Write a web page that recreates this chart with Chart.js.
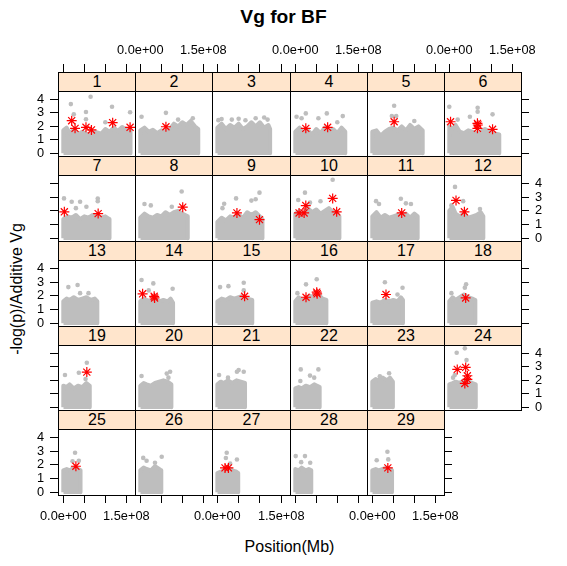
<!DOCTYPE html>
<html>
<head>
<meta charset="utf-8">
<script src="https://cdn.jsdelivr.net/npm/chart.js@4.4.1/dist/chart.umd.min.js"></script>
<style>
body { margin: 0; background: #fff; font-family: "Liberation Sans", Arial, sans-serif; }
#wrap { position: relative; width: 567px; height: 566px; overflow: hidden; }
#wrap canvas { position: absolute; }
.strip { position: absolute; box-sizing: border-box; border: 1px solid #000; background: #ffe5cc;
         font-size: 16px; line-height: 18px; text-align: center; color: #000; z-index: 5; }
#title { position: absolute; left: 0; top: 6px; width: 567px; text-align: center; font-weight: bold;
         font-size: 19.2px; line-height: 22px; }
#xlab { position: absolute; left: 58px; top: 537px; width: 463px; text-align: center; font-size: 16px; line-height: 20px; }
#ylab { position: absolute; left: 17px; top: 289px; transform: translate(-50%, -50%) rotate(-90deg);
        white-space: nowrap; font-size: 16px; line-height: 20px; }
</style>
</head>
<body>
<div id="wrap">
  <div id="title">Vg for BF</div>
  <div id="xlab">Position(Mb)</div>
  <div id="ylab">-log(p)/Additive Vg</div>
</div>
<script>
// chromosomes (one panel each) and their length in Mb
var chromosomes = ['1','2','3','4','5','6','7','8','9','10','11','12','13','14','15',
                   '16','17','18','19','20','21','22','23','24','25','26','27','28','29'];
var chrLengthMb = [160,138,124,119,120,119,110,113,106,105,108,81,81,78,82,
                   74,73,62,63,74,65,58,49,63,41,50,49,38,47];

// top of the dense grey band of SNPs, [Mb, -log(p)]
var cloudTop = [
  [[0,1.7],[8,1.9],[15,1.5],[25,1.75],[35,1.4],[45,1.6],[55,1.45],[65,1.4],[75,1.6],[90,1.45],[100,1.8],[110,1.6],[120,1.9],[130,1.65],[140,1.95],[150,1.75],[160,1.7]],
  [[0,1.7],[10,1.9],[20,1.6],[30,1.75],[40,1.5],[50,1.7],[60,1.6],[70,1.8],[80,2.2],[90,2.0],[100,2.3],[110,2.1],[120,2.4],[130,2.0],[138,1.8]],
  [[0,1.9],[10,2.2],[20,1.8],[30,2.1],[40,1.9],[50,2.2],[60,1.8],[70,2.0],[80,2.3],[90,2.0],[100,2.3],[110,1.9],[120,2.1],[124,1.8]],
  [[0,1.6],[10,1.9],[20,1.5],[30,1.7],[40,1.4],[50,1.8],[60,1.5],[70,1.9],[80,1.6],[90,1.8],[100,1.5],[110,1.9],[119,1.6]],
  [[0,1.6],[10,1.7],[20,1.3],[30,1.6],[40,1.8],[50,1.9],[60,1.7],[70,2.0],[80,1.7],[90,2.1],[100,1.8],[110,2.0],[120,1.7]],
  [[0,2.0],[8,1.8],[15,2.1],[25,1.6],[35,1.5],[45,1.7],[55,1.6],[65,1.5],[75,1.6],[85,1.8],[95,1.6],[105,1.5],[119,1.4]],
  [[0,1.4],[10,1.6],[20,1.5],[30,1.7],[40,1.4],[50,1.6],[60,1.5],[70,1.7],[80,1.6],[90,1.5],[100,1.6],[110,1.4]],
  [[0,1.5],[10,1.8],[20,1.6],[30,1.5],[40,1.7],[50,1.6],[60,1.9],[70,1.7],[80,1.9],[90,2.0],[100,1.8],[113,1.6]],
  [[0,1.2],[10,1.5],[20,1.3],[30,1.6],[40,1.5],[50,1.7],[60,1.5],[70,1.9],[80,1.7],[90,1.9],[100,1.6],[106,1.4]],
  [[0,1.8],[10,2.0],[20,1.7],[30,2.2],[40,1.9],[50,2.1],[60,1.8],[70,2.0],[80,2.2],[90,1.9],[100,1.8],[105,1.6]],
  [[0,1.6],[10,1.9],[20,1.5],[30,1.7],[40,1.5],[50,1.6],[60,1.7],[70,1.6],[80,1.8],[90,1.5],[100,1.8],[108,1.6]],
  [[0,2.0],[8,2.3],[15,1.8],[25,1.6],[35,1.8],[45,1.5],[55,1.6],[65,1.7],[75,1.9],[81,1.6]],
  [[0,1.6],[8,1.8],[15,1.7],[25,1.9],[35,1.7],[45,1.8],[55,1.9],[65,1.7],[75,1.8],[81,1.6]],
  [[0,1.6],[8,1.8],[15,1.7],[25,1.6],[35,1.8],[45,1.6],[55,1.7],[65,1.6],[72,1.8],[78,1.5]],
  [[0,1.6],[10,1.8],[20,1.7],[30,1.9],[40,1.8],[50,1.9],[60,2.0],[70,1.8],[82,1.7]],
  [[0,1.6],[8,1.9],[15,1.7],[25,1.8],[35,2.0],[45,1.9],[55,2.1],[65,1.8],[74,1.7]],
  [[0,1.5],[10,1.6],[20,1.5],[30,1.7],[40,1.6],[50,1.7],[60,1.6],[68,1.9],[73,1.7]],
  [[0,1.6],[8,1.9],[15,1.7],[25,1.9],[35,2.1],[45,1.9],[55,1.8],[62,1.7]],
  [[0,1.6],[8,1.5],[15,1.7],[25,1.4],[35,1.6],[45,1.5],[55,1.8],[63,1.6]],
  [[0,1.6],[8,1.8],[15,1.7],[25,1.6],[35,1.8],[45,1.9],[55,2.0],[65,1.9],[74,1.7]],
  [[0,1.7],[8,1.9],[15,1.8],[25,2.0],[35,1.8],[45,2.0],[55,1.9],[65,1.8]],
  [[0,1.4],[8,1.5],[15,1.4],[25,1.6],[35,1.5],[45,1.7],[52,1.6],[58,1.5]],
  [[0,1.9],[8,2.1],[15,2.0],[25,2.2],[35,2.0],[42,2.2],[49,1.9]],
  [[0,1.7],[8,1.8],[15,1.9],[25,1.8],[35,2.0],[45,1.9],[55,1.8],[63,1.7]],
  [[0,1.6],[8,1.7],[15,1.6],[25,1.8],[35,1.7],[41,1.6]],
  [[0,1.6],[8,1.8],[15,1.7],[25,1.6],[35,1.9],[45,1.7],[50,1.6]],
  [[0,1.4],[8,1.5],[15,1.6],[25,1.8],[35,1.6],[45,1.5],[49,1.4]],
  [[0,1.7],[8,1.6],[15,1.8],[25,1.6],[32,1.7],[38,1.6]],
  [[0,1.6],[8,1.7],[15,1.6],[25,1.7],[35,1.8],[42,1.7],[47,1.6]]
];

// single grey SNPs standing above the band, [Mb, -log(p)]
var greyPoints = [
  [[18,3.65],[65,4.19],[54,3.06],[116,3.45],[159,3.04],[25,2.89],[54,2.52],[100,2.3]],
  [[3,2.71],[61,3.0],[90,2.5],[125,2.6]],
  [[10,2.54],[34,2.5],[50,2.56],[66,2.45],[90,2.6],[110,2.66],[118,2.5],[2.4,2.46]],
  [[3,2.71],[15,2.6],[25,2.96],[55,2.6],[75,2.96],[113,2.76],[100,2.3]],
  [[52,3.53],[46.5,2.76],[57,2.76],[100,2.4]],
  [[0,3.45],[67.5,3.38],[67.5,3.08],[49,2.71],[103,2.89],[20,2.5]],
  [[1.7,2.91],[20,2.67],[40,2.67],[82,2.71],[82,2.9],[55,2.3],[30,2.2]],
  [[98.5,3.41],[10,2.5],[25,2.4],[75,2.3]],
  [[16,2.52],[44,2.91],[99,3.33],[80,2.75],[90,2.85],[12,2.2]],
  [[89,4.27],[23,3.33],[7,2.79],[60,2.7],[35,2.6]],
  [[68,2.89],[9,2.71],[16,2.5],[80,2.55],[92,2.5]],
  [[13.6,3.75],[33,2.71],[73,2.14],[5,2.4]],
  [[12,2.64],[34,2.79],[40,2.2],[60,2.2]],
  [[3,3.16],[31,2.91],[77,2.52],[20,2.4]],
  [[6.4,2.64],[26,2.71],[62,2.96],[62,2.4]],
  [[51,3.21],[25.5,2.84],[5,2.2]],
  [[30,3.0],[72,2.59],[60,2.1]],
  [[40,2.84],[37,2.6],[5,2.2]],
  [[56,3.3],[37,2.56],[4,2.39],[53,2.1]],
  [[71,2.64],[63,2.5],[3,2.32],[67,2.2]],
  [[50,2.76],[46,2.64],[62,2.64],[4,2.39],[25,2.2]],
  [[13,2.81],[55,2.81],[35,2.35],[45,2.2],[12,1.95]],
  [[40,2.52],[18,2.3]],
  [[37,4.37],[17.6,4.05],[41,3.5],[13,2.4],[9,2.2]],
  [[28,2.89],[22,2.27],[37,2.3]],
  [[7,2.51],[51,2.59],[35,2.15],[15,2.3]],
  [[22,2.89],[46,2.39],[20,2.5],[30,2.1]],
  [[1,2.64],[23,2.64],[14,2.2],[35.5,2.15]],
  [[36,2.96],[10.5,2.34],[38,2.4]]
];

// significant SNPs (red asterisks), [Mb, -log(p)]
var hits = [
  [[20,2.42],[28,1.85],[54,1.93],[67,1.73],[117.5,2.27],[159,1.93]],
  [[61,1.97]],
  [],
  [[25,1.85],[77,1.93]],
  [[52,2.34]],
  [[3,2.34],[67,2.22],[68,2.1],[67,1.85],[103,1.78]],
  [[2.5,1.93],[83,1.8]],
  [[101,2.27]],
  [[46,1.85],[99,1.36]],
  [[9,1.85],[21,1.85],[25,2.39],[89,2.91],[98.5,1.93]],
  [[70,1.85]],
  [[16,2.76],[36,1.93]],
  [],
  [[5.5,2.15],[33,1.97],[34,1.85]],
  [[64,1.97]],
  [[25.5,1.9],[51,2.27],[52,2.15]],
  [[32.6,2.1]],
  [[39,1.85]],
  [[56,2.61]],
  [], [], [], [],
  [[19,2.81],[39,2.96],[43,2.34],[43,2.07],[37,1.77]],
  [[30,1.9]],
  [],
  [[18,1.78],[26,1.78]],
  [],
  [[37,1.78]]
];

var xTicks = [0, 5e7, 1e8, 1.5e8];
var xTickLabels = ['0.0e+00', '', '', '1.5e+08'];
var yTicks = [0, 1, 2, 3, 4];
var yTickLabels = ['0', '1', '2', '3', '4'];

// panel grid (lattice layout 6 x 5)
var colLeft = [58, 135, 212, 290, 367, 444, 521];
var rowTop = [72, 156, 241, 326, 410, 495];
var stripH = 19;
var M = 50;
var GREY = '#bebebe';
var tickFont = { family: '"Liberation Sans", Arial, sans-serif', size: 12.8 };

function toXY(pairs) {
    return pairs.map(function (p) { return { x: p[0] * 1e6, y: p[1] }; });
}

function axis(pos, min, max, ticks, labels, showTicks, showLabels, tickLen) {
    return {
        type: 'linear', position: pos, min: min, max: max,
        afterBuildTicks: function (s) { s.ticks = ticks.map(function (v) { return { value: v }; }); },
        afterFit: function (s) {
            if (pos === 'top' || pos === 'bottom') s.height = M; else s.width = M;
        },
        border: { display: true, color: '#000', width: 1, z: 1 },
        grid: { display: showTicks, drawOnChartArea: false, drawTicks: showTicks, tickLength: tickLen,
                color: '#000', lineWidth: 1, z: 1 },
        ticks: { display: showLabels, autoSkip: false, maxRotation: 0, minRotation: 0, padding: 6,
                 color: '#000', font: tickFont,
                 callback: function (v, k) { return labels[k]; } }
    };
}

var wrap = document.getElementById('wrap');

chromosomes.forEach(function (chr, i) {
    var r = Math.floor(i / 6), c = i % 6;
    var left = colLeft[c], right = colLeft[c + 1];
    var top = rowTop[r] + stripH, bottom = rowTop[r + 1];
    var last = i === chromosomes.length - 1;

    var showTop = r === 0, showBottom = r === 4;
    var showLeft = c === 0, showRight = c === 5 || last;

    // strip with chromosome number
    var strip = document.createElement('div');
    strip.className = 'strip';
    strip.style.left = left + 'px';
    strip.style.top = rowTop[r] + 'px';
    strip.style.width = (right - left + 1) + 'px';
    strip.style.height = (stripH + 1) + 'px';
    strip.textContent = chr;
    wrap.appendChild(strip);

    var cv = document.createElement('canvas');
    cv.width = right - left + 2 * M;
    cv.height = bottom - top + 2 * M;
    cv.style.left = (left - M) + 'px';
    cv.style.top = (top - M) + 'px';
    wrap.appendChild(cv);

    var len = chrLengthMb[i];
    var band = [{ x: 0, y: 0 }].concat(toXY(cloudTop[i]), [{ x: len * 1e6, y: 0 }]);

    new Chart(cv.getContext('2d'), {
        type: 'scatter',
        data: {
            datasets: [
                { type: 'line', data: band, borderColor: GREY, backgroundColor: GREY, borderWidth: 4,
                  borderJoinStyle: 'round', pointRadius: 0, tension: 0, fill: { value: -0.12 }, clip: 0, order: 3 },
                { data: toXY(greyPoints[i]), pointRadius: 2.3, backgroundColor: GREY, borderWidth: 0, clip: 0, order: 2 },
                { data: toXY(hits[i]), pointStyle: 'star', pointRadius: 5, borderColor: '#ff0000',
                  backgroundColor: '#ff0000', borderWidth: 1.2, clip: 0, order: 1 }
            ]
        },
        options: {
            responsive: false,
            animation: false,
            events: [],
            layout: { padding: 0 },
            plugins: { legend: { display: false }, tooltip: { enabled: false } },
            scales: {
                x: axis('bottom', -12.6e6, 170.7e6, xTicks, xTickLabels, showBottom, showBottom && c % 2 === 0, 8),
                x2: axis('top', -12.6e6, 170.7e6, xTicks, xTickLabels, showTop, showTop && c % 2 === 1, 27),
                y: axis('left', -0.2, 4.62, yTicks, yTickLabels, showLeft, showLeft && r % 2 === 0, 8),
                y2: axis('right', -0.2, 4.62, yTicks, yTickLabels, showRight, showRight && r % 2 === 1, 8)
            }
        }
    });
});
</script>
</body>
</html>
